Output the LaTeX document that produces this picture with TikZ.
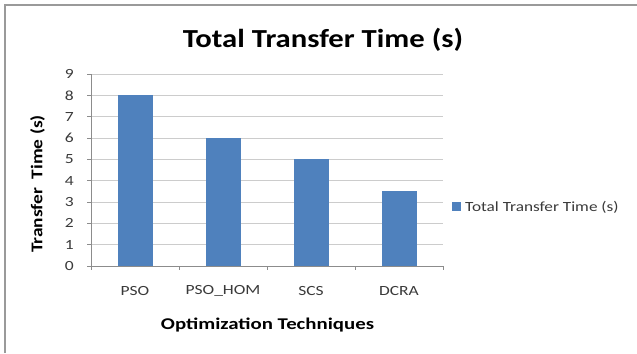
\documentclass[tikz,border=0pt]{standalone}
\usepackage{fontspec}
\setmainfont{Carlito}
\definecolor{barblue}{HTML}{4F81BD}
\definecolor{gridgray}{HTML}{CCCCCC}
\definecolor{axisgray}{HTML}{8C8C8C}
\definecolor{framegray}{HTML}{9A9A9A}
\definecolor{labelgray}{HTML}{3A3A3A}
\newcommand{\wide}[2]{\scalebox{#1}[1]{#2}}
\begin{document}
\begin{tikzpicture}[x=1bp,y=-1bp,
  gridline/.style={draw=gridgray,line width=0.9bp},
  axisline/.style={draw=axisgray,line width=0.9bp},
  bar/.style={fill=barblue},
  ticklab/.style={inner sep=0pt,text=labelgray,font=\fontsize{14bp}{16bp}\selectfont},
  axistitle/.style={inner sep=0pt,font=\fontsize{16.4bp}{19bp}\selectfont\bfseries},
  charttitle/.style={inner sep=0pt,font=\fontsize{26bp}{30bp}\selectfont\bfseries}]
\useasboundingbox (0,0) rectangle (637,353);
\fill[white] (0,0) rectangle (637,353);
% page frame
\draw[framegray,line width=1.3bp] (5,353) -- (5,5) -- (637,5);
% title
\node[charttitle] (title) at (323,40) {\wide{1.18}{Total Transfer Time (s)}};
% horizontal gridlines
\foreach \k in {1,...,9}
  \draw[gridline] (91,{266-21.33*\k}) -- (443,{266-21.33*\k});
% bars
\foreach \cx/\v in {135/8,223/6,311/5,399/3.5}
  \fill[bar] ({\cx-17.5},266) rectangle ({\cx+17.5},{266-21.33*\v});
% axes and tick marks
\draw[axisline] (91,74.0) -- (91,266) -- (443,266);
\foreach \k in {0,...,9}
  \draw[axisline] (87,{266-21.33*\k}) -- (91,{266-21.33*\k});
\foreach \tx in {91,179,267,355,443}
  \draw[axisline] (\tx,266) -- (\tx,270);
% value labels
\foreach \k in {0,...,9}
  \node[ticklab,anchor=east] (ylab\k) at (74,{266-21.33*\k}) {\wide{1.25}{\k}};
% category labels
\node[ticklab] (cat1) at (135,291) {\wide{1.25}{PSO}};
\node[ticklab] (cat2) at (223,291) {\wide{1.25}{PSO\_HOM}};
\node[ticklab] (cat3) at (311,291) {\wide{1.25}{SCS}};
\node[ticklab] (cat4) at (399,291) {\wide{1.25}{DCRA}};
% axis titles
\node[axistitle] (xtitle) at (267.5,325) {\wide{1.27}{Optimization Techniques}};
\node[axistitle,rotate=90] (ytitle) at (37.5,184) {\wide{1.18}{Transfer\ \ Time (s)}};
% legend
\fill[bar] (452,202) rectangle (461,211);
\node[ticklab,anchor=west] (legend) at (465,207) {\wide{1.23}{Total Transfer Time (s)}};
\end{tikzpicture}
\end{document}
